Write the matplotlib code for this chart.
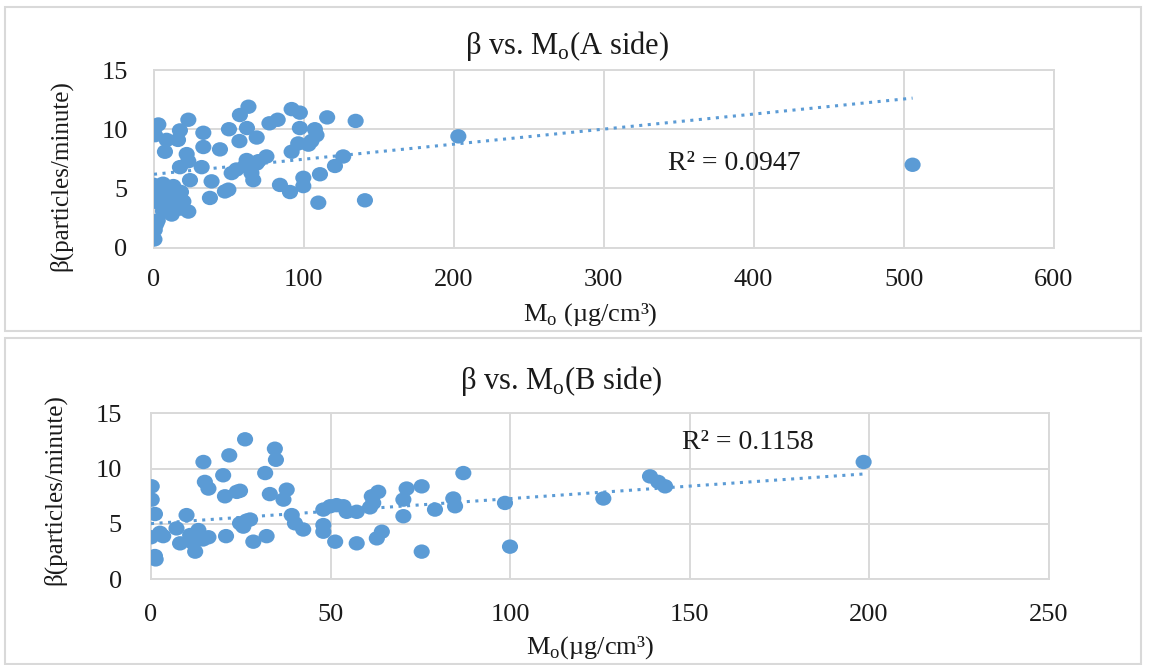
import matplotlib
matplotlib.use("Agg")
import matplotlib.pyplot as plt
import numpy as np
from matplotlib.patches import Rectangle
from matplotlib.path import Path

# ---- data ----
a_x = [0.3, 0.5, 1.5, 2.5,
       0, 6, 12.9, 18, 4, 9.6, 15, 3, 7.3, 11.8, 19.6, 6, 11.8, 22.9, 17.3, 10, 14, 8,
       2.9, 0.7, 8.4, 7.3, 17.3, 22.9, 16,
       32.9, 32.9, 44, 50, 57.3, 63, 57, 62, 68.5,
       21.8, 22.9, 17.3, 31.8, 24, 38.4, 37.3, 47.3, 49.6,
       51.8, 55, 61.8, 65, 66.2, 60.7, 68.4, 69.6, 75,
       77, 82.5, 84, 90.7, 91.8, 97.3, 91.8, 96.2, 97.3, 103, 107.3, 108.4, 105,
       99.6, 99.6, 110.7, 109.6, 115.5, 120.7, 126.2, 134.5, 140.7,
       203, 506]
a_y = [0.7, 1.5, 2.0, 2.3,
       5.3, 5.4, 5.2, 4.7, 4.6, 4.5, 4.3, 3.8, 3.9, 3.5, 3.9, 3.1, 2.8, 3.05, 3.3, 4.0, 3.7, 5.0,
       10.4, 9.5, 9.1, 8.1, 9.9, 10.8, 9.1,
       9.7, 8.5, 8.3, 10.0, 11.2, 11.9, 9.0, 10.1, 9.3,
       7.9, 7.3, 6.8, 6.8, 5.7, 5.6, 4.2, 4.75, 4.9,
       6.3, 6.6, 7.4, 6.3, 5.7, 6.9, 7.1, 7.3, 7.7,
       10.5, 10.8, 5.3, 4.7, 11.7, 11.4, 8.1, 8.8, 10.1, 8.7, 10.0, 9.5, 9.0,
       5.9, 5.2, 6.2, 3.8, 11.0, 6.9, 7.7, 10.7, 4.0,
       9.4, 7.0]

b_x = [0.2, 0.2, 1.1, 0, 2.5, 3.4, 1.1, 1.3,
       7.1, 9.9, 8.1, 10.9, 13.2, 11.8, 12.3, 16, 14.5,
       14.6, 15, 16, 21.8, 20.1, 20.6, 23.9, 24.8, 26.2,
       20.9, 24.8, 26.6, 27.6, 25.7, 28.5, 32.2,
       31.8, 34.5, 34.8, 33.1, 37.8, 36.9,
       39.2, 40.1, 42.4,
       48, 49.9, 51.7, 53.6, 54.5, 57.3,
       48, 48, 51.3, 57.3,
       61.5, 63.3, 61.9, 61,
       62.9, 64.3,
       70.3, 71.2, 75.4, 70.3, 75.4,
       79.1, 84.2, 84.7, 87, 98.6, 100,
       126, 139, 141.3, 143.2, 198.5]
b_y = [8.4, 7.2, 5.9, 3.8, 4.2, 3.9, 2.1, 1.8,
       4.6, 5.8, 3.25, 4.0, 4.45, 3.25, 2.5, 3.8, 3.6,
       10.6, 8.8, 8.2, 11.2, 9.4, 7.5, 7.9, 8.0, 12.65,
       3.9, 5.06, 5.3, 5.4, 4.76, 3.4, 3.9,
       9.6, 11.8, 10.8, 7.7, 8.1, 7.2,
       5.8, 5.06, 4.5,
       6.3, 6.6, 6.7, 6.6, 6.1, 6.1,
       4.9, 4.3, 3.4, 3.25,
       7.5, 7.9, 6.9, 6.5,
       3.7, 4.3,
       7.2, 8.2, 8.4, 5.7, 2.5,
       6.3, 7.3, 6.6, 9.6, 6.9, 2.95,
       7.3, 9.3, 8.8, 8.4, 10.6]

# linear trend lines (intercept, slope) as shown in the chart
a_trend = [6.2, 0.0127]
b_trend = [5.03, 0.0226]
a_r2 = "R² = 0.0947"
b_r2 = "R² = 0.1158"

a_xticks = [0, 100, 200, 300, 400, 500, 600]
b_xticks = [0, 50, 100, 150, 200, 250]
yticks = [0, 5, 10, 15]

blue = "#5B9BD5"
grid = "#D9D9D9"
txt = "#1a1a1a"

plt.rcParams['font.family'] = ['Liberation Serif', 'DejaVu Serif']
plt.rcParams['text.color'] = txt

# slightly wide dot, like the stretched Excel markers
circ = Path.unit_circle()
dot = Path(circ.vertices * [1.12, 1.0], circ.codes)

W, H = 1150, 665
fig = plt.figure(figsize=(W / 100, H / 100), dpi=100)

# panel borders
for y0, y1 in [(7, 331), (338, 664)]:
    fig.patches.append(Rectangle((5 / W, 1 - y1 / H), 1136 / W, (y1 - y0) / H,
                                 transform=fig.transFigure, fill=False,
                                 edgecolor=grid, lw=1.5))


def panel(rect, xs, ys, trend, xticks, r2, r2pos, xpad, ypad):
    ax = fig.add_axes(rect)
    ax.set_axisbelow(True)
    ax.grid(True, color=grid, lw=1.4)
    for s in ax.spines.values():
        s.set_color(grid)
        s.set_linewidth(1.4)
    ax.scatter(xs, ys, s=135, marker=dot, color=blue, edgecolors="none", zorder=3)
    tx = np.array([0, max(xs)])
    ax.plot(tx, trend[0] + trend[1] * tx, color=blue, lw=2.2,
            linestyle=(0, (1, 1.8)), zorder=4)
    ax.set_xlim(xticks[0], xticks[-1])
    ax.set_ylim(0, 15)
    ax.set_xticks(xticks)
    ax.set_yticks(yticks)
    ax.tick_params(axis="both", length=0, labelsize=19, colors=txt)
    ax.tick_params(axis="x", pad=xpad)
    ax.tick_params(axis="y", pad=ypad)
    ax.text(r2pos[0], r2pos[1], r2, fontsize=20, va="center", ha="left")
    return ax


panel([154 / W, 1 - 247.7 / H, 899.5 / W, 177.7 / H], a_x, a_y, a_trend,
      a_xticks, a_r2, (343, 7.1), 15, 19)
panel([151 / W, 1 - 579.3 / H, 897.5 / W, 166 / H], b_x, b_y, b_trend,
      b_xticks, b_r2, (148, 12.4), 18, 21)

fig.text(567 / W, 1 - 46 / H, "β vs. M$_\\mathregular{o}$(A side)",
         fontsize=22, ha="center", va="center")
fig.text(561 / W, 1 - 381 / H, "β vs. M$_\\mathregular{o}$(B side)",
         fontsize=22, ha="center", va="center")
fig.text(590 / W, 1 - 315 / H, "M$_\\mathregular{o}$ (µg/cm³)",
         fontsize=19, ha="center", va="center")
fig.text(590 / W, 1 - 648 / H, "M$_\\mathregular{o}$(µg/cm³)",
         fontsize=19, ha="center", va="center")
fig.text(61 / W, 1 - 176 / H, "β(particles/minute)", fontsize=18,
         rotation=90, ha="center", va="center")
fig.text(55 / W, 1 - 490 / H, "β(particles/minute)", fontsize=18,
         rotation=90, ha="center", va="center")

fig.savefig("out.png", dpi=100, facecolor="white")
